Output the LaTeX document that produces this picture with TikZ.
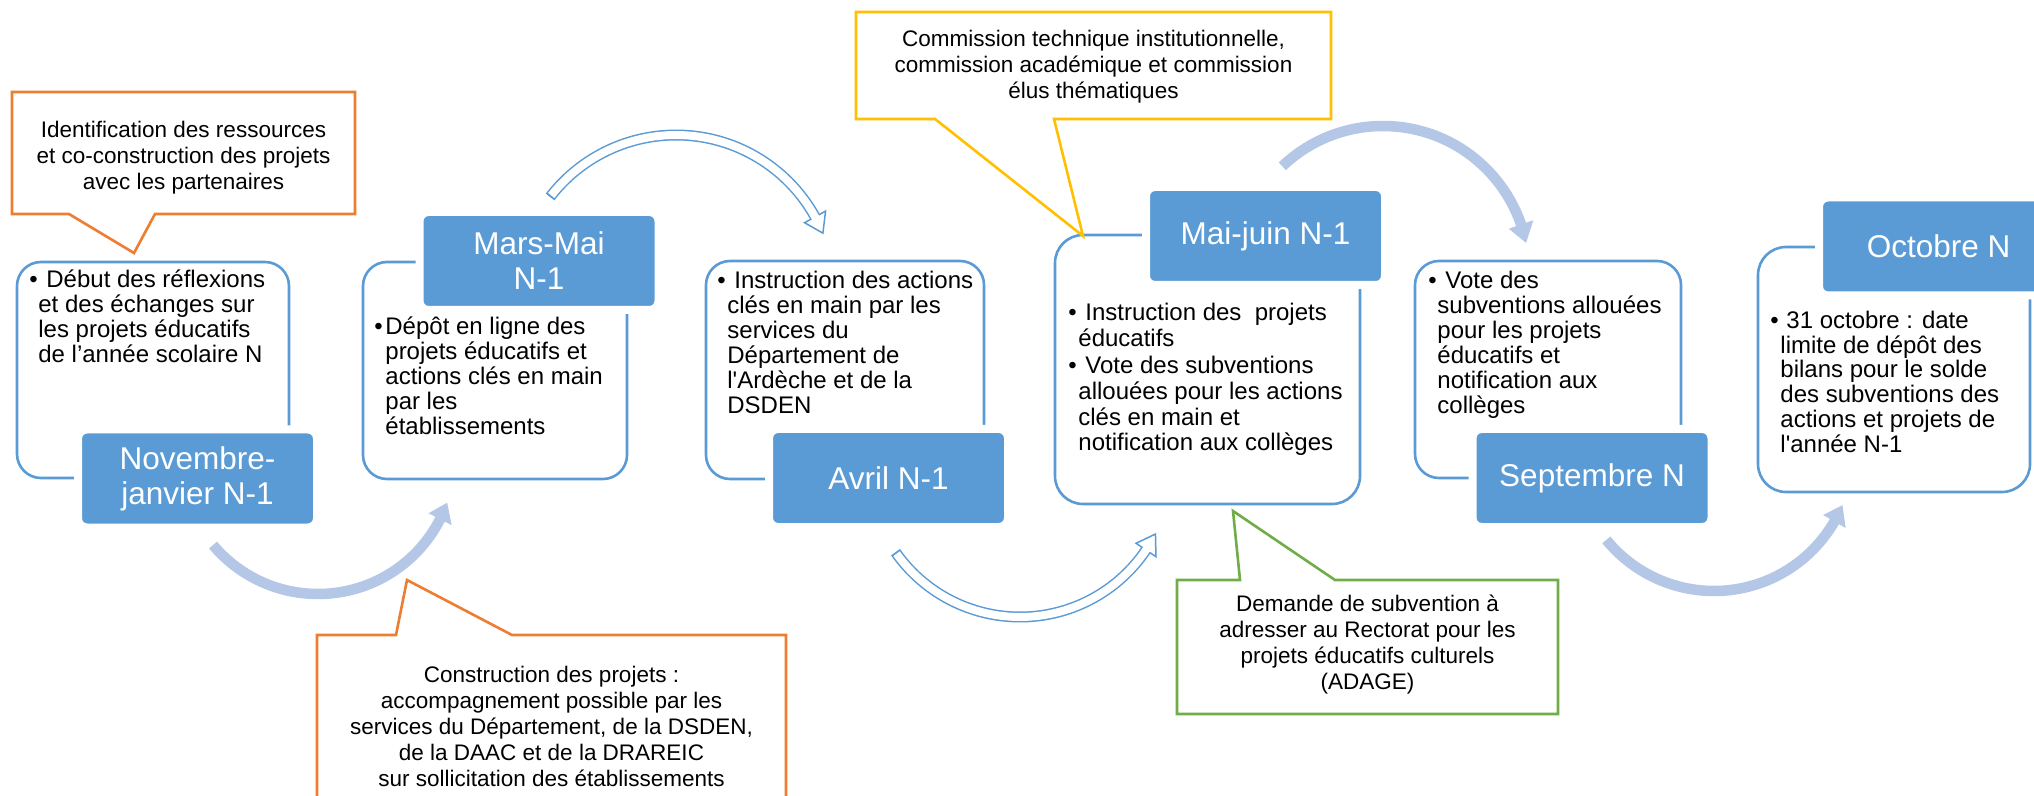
\documentclass[tikz,border=0pt]{standalone}
\usepackage{fontspec}
\setmainfont{Liberation Sans}
\usetikzlibrary{calc}
\definecolor{lblue}{HTML}{5B9BD5}
\definecolor{sblue}{HTML}{B4C7E7}
\definecolor{corange}{HTML}{ED7D31}
\definecolor{cyellow}{HTML}{FFC000}
\definecolor{cgreen}{HTML}{70AD47}
\newcommand\sq{\XeTeXglyph\XeTeXcharglyph"27\relax}
% solid curved arrow: name, cx, cy, r, start angle, shaft end, head base angle, tip angle
\newcommand\solidarc[8]{%
  \coordinate (#1c) at (#2,#3);
  \pgfmathsetmacro\rin{#4-13}\pgfmathsetmacro\rout{#4+13}%
  \draw[sblue, line width=5.25pt] ($(#1c)+(#5:#4)$) arc[start angle=#5, end angle=#6, radius=#4];
  \fill[sblue] ($(#1c)+(#7:\rin)$) -- ($(#1c)+(#8:#4)$) -- ($(#1c)+(#7:\rout)$) -- cycle;
}
% hollow curved arrow: name, cx, cy, r, start angle, head base angle, tip angle, white start, white end
\newcommand\hollowarc[9]{%
  \coordinate (#1c) at (#2,#3);
  \pgfmathsetmacro\rin{#4-12}\pgfmathsetmacro\rout{#4+12}%
  \draw[lblue, line width=5.5pt] ($(#1c)+(#5:#4)$) arc[start angle=#5, end angle=#6, radius=#4];
  \filldraw[fill=white, draw=lblue, line width=0.75pt, line join=miter] ($(#1c)+(#6:\rin)$) -- ($(#1c)+(#7:#4)$) -- ($(#1c)+(#6:\rout)$) -- cycle;
  \draw[white, line width=4pt] ($(#1c)+(#8:#4)$) arc[start angle=#8, end angle=#9, radius=#4];
}
\begin{document}
\begin{tikzpicture}[x=0.5pt,y=-0.5pt,
  wbox/.style={draw=lblue, line width=1.3pt, fill=white, rounded corners=12pt, inner sep=0pt},
  lab/.style={fill=lblue, draw=white, line width=4pt, rounded corners=4.5pt,
    minimum width=119.5pt, minimum height=49pt, inner sep=0pt, text=white,
    align=center, font=\fontsize{15.75}{17.5}\selectfont},
  body/.style={anchor=base west, inner sep=0pt, font=\fontsize{12}{12.5}\selectfont},
  call/.style={line width=1.3pt, fill=white, line join=miter},
  ctext/.style={align=center, inner sep=0pt, font=\fontsize{11.25}{13}\selectfont},
]
\useasboundingbox (0,0) rectangle (2034,796);
\fill[white] (0,0) rectangle (2034,796);
\clip (0,0) rectangle (2034,796);

% white boxes
\node[wbox, minimum width=136pt, minimum height=108pt] (B1) at (153,370) {};
\node[wbox, minimum width=132pt, minimum height=108.5pt] (B2) at (495,370.5) {};
\node[wbox, minimum width=139pt, minimum height=109pt] (B3) at (845,370) {};
\node[wbox, minimum width=152.5pt, minimum height=134.5pt, rounded corners=14pt] (B4) at (1207.5,369.5) {};
\node[wbox, minimum width=133pt, minimum height=108.5pt] (B5) at (1548,369.5) {};
\node[wbox, minimum width=136pt, minimum height=122.5pt, rounded corners=14pt] (B6) at (1894,369.5) {};

% labels
\node[lab] (L1) at (197.5,478.5) {Novembre-\\janvier N-1};
\node[lab] (L2) at (539,261) {Mars-Mai\\N-1};
\node[lab] (L3) at (888.5,478) {Avril N-1};
\node[lab] (L4) at (1265.5,236) {Mai-juin N-1};
\node[lab] (L5) at (1592,478) {Septembre N};
\node[lab] (L6) at (1938.5,246.5) {Octobre N};

% box texts
\node[body] (t1b) at (29,288) {•};
\node[body] (t1a) at (46,288) {Début des réflexions};
\node[body] (t1c) at (38,313) {et des échanges sur};
\node[body] (t1d) at (38,338) {les projets éducatifs};
\node[body] (t1e) at (38,363) {de l’année scolaire N};

\node[body] (t2b) at (374,335) {•};
\node[body] (t2a) at (385,335) {Dépôt en ligne des};
\node[body] (t2c) at (385,360) {projets éducatifs et};
\node[body] (t2d) at (385,385) {actions clés en main};
\node[body] (t2e) at (385,410) {par les};
\node[body] (t2f) at (385,435) {établissements};

\node[body] (t3b) at (717,289) {•};
\node[body] (t3a) at (734,289) {Instruction des actions};
\node[body] (t3c) at (727,314) {clés en main par les};
\node[body] (t3d) at (727,339) {services du};
\node[body] (t3e) at (727,364) {Département de};
\node[body] (t3f) at (727,389) {l\sq Ardèche et de la};
\node[body] (t3g) at (727,414) {DSDEN};

\node[body] (t4b) at (1068,321) {•};
\node[body] (t4a) at (1085,321) {Instruction des \ projets};
\node[body] (t4c) at (1078,346.5) {éducatifs};
\node[body] (t4d) at (1068,374) {•};
\node[body] (t4e) at (1085,374) {Vote des subventions};
\node[body] (t4f) at (1078,399.5) {allouées pour les actions};
\node[body] (t4g) at (1078,425) {clés en main et};
\node[body] (t4h) at (1078,450.5) {notification aux collèges};

\node[body] (t5b) at (1428,289) {•};
\node[body] (t5a) at (1445,289) {Vote des};
\node[body] (t5c) at (1437,314) {subventions allouées};
\node[body] (t5d) at (1437,339) {pour les projets};
\node[body] (t5e) at (1437,364) {éducatifs et};
\node[body] (t5f) at (1437,389) {notification aux};
\node[body] (t5g) at (1437,414) {collèges};

\node[body] (t6b) at (1770,329) {•};
\node[body] (t6a) at (1786,329) {31 octobre : date};
\node[body] (t6c) at (1780,353.5) {limite de dépôt des};
\node[body] (t6d) at (1780,378) {bilans pour le solde};
\node[body] (t6e) at (1780,403) {des subventions des};
\node[body] (t6f) at (1780,427.5) {actions et projets de};
\node[body] (t6g) at (1780,452) {l\sq année N-1};

% callouts
\draw[call, draw=corange] (12,92) -- (355,92) -- (355,214) -- (155,214) -- (134,253) -- (69,214) -- (12,214) -- cycle;
\node[ctext] (c1) at (183.5,157.5) {Identification des ressources\\et co-construction des projets\\avec les partenaires};

\draw[call, draw=corange] (317,635) -- (396,635) -- (407,580) -- (512,635) -- (786,635) -- (786,830) -- (317,830) -- cycle;
\node[ctext] (c2) at (551.5,726.5) {Construction des projets :\\accompagnement possible par les\\services du Département, de la DSDEN,\\de la DAAC et de la DRAREIC\\sur sollicitation des établissements};

\draw[call, draw=cyellow] (856,12) -- (1331,12) -- (1331,119) -- (1054,119) -- (1083,236) -- (935,119) -- (856,119) -- cycle;
\node[ctext] (c3) at (1093.5,67) {Commission technique institutionnelle,\\commission académique et commission\\élus thématiques};

\draw[call, draw=cgreen] (1177,580) -- (1240,580) -- (1233,511) -- (1335,580) -- (1558,580) -- (1558,714) -- (1177,714) -- cycle;
\node[ctext] (c4) at (1367.5,645) {Demande de subvention à\\adresser au Rectorat pour les\\projets éducatifs culturels\\(ADAGE)};

% arrows
\solidarc{S1}{318}{457}{137}{140}{25}{27}{19.5}
\solidarc{S2}{1383}{272}{146}{-133.6}{-17}{-19}{-11.5}
\solidarc{S3}{1714}{452}{139}{140.8}{28}{30}{22.5}
\hollowarc{H1}{676}{294}{159}{-142.4}{-29}{-22.5}{-141.7}{-28}
\hollowarc{H2}{1020}{465}{152}{145}{34}{27}{144.3}{33}
\end{tikzpicture}
\end{document}
